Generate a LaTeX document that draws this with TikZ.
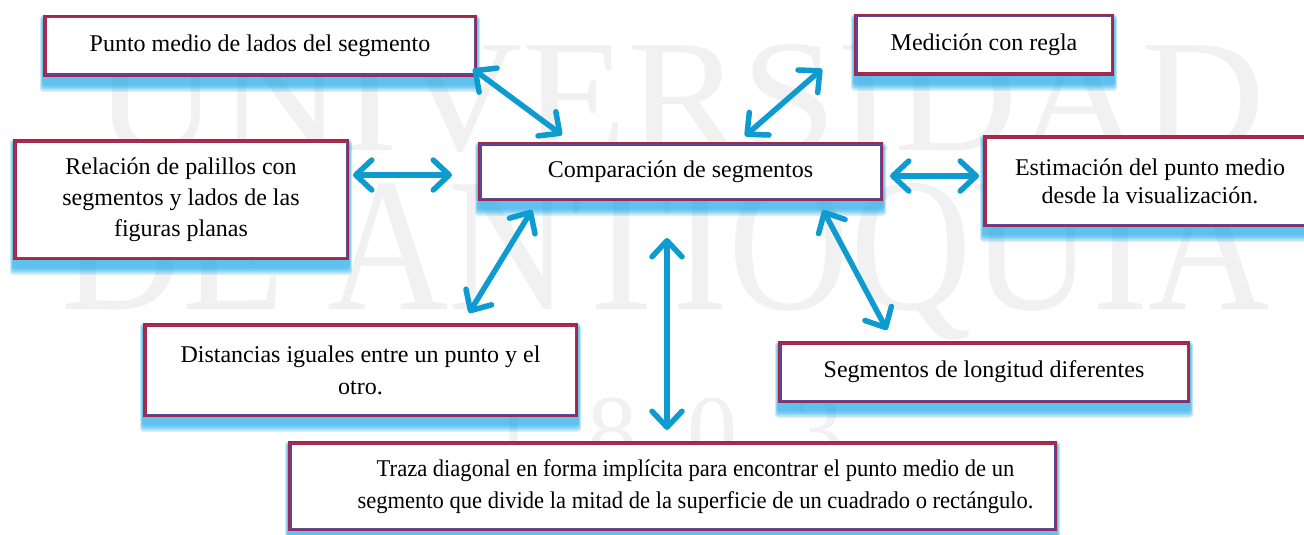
\documentclass[tikz,border=0pt]{standalone}
\usepackage{fontspec}
\setmainfont{Liberation Serif}
\usetikzlibrary{arrows.meta,calc,backgrounds}
\pgfdeclarelayer{wmlayer}
\pgfsetlayers{wmlayer,background,main}
\definecolor{boxred}{HTML}{A3274A}
\definecolor{boxblue}{HTML}{5A4C9C}
\definecolor{glowc}{HTML}{12A6E8}
\definecolor{arrowc}{HTML}{0E9BD0}
\definecolor{wmark}{HTML}{F1F1F1}
\begin{document}
\begin{tikzpicture}[x=1pt,y=-1pt,
  concept/.style={draw=boxred, line width=3.5pt, fill=white, inner sep=0pt, align=center,
    font=\fontsize{24}{31}\selectfont},
  biarrow/.style={draw=arrowc, line width=5.5pt,
    {Straight Barb[length=16pt,width=30pt,round]}-{Straight Barb[length=16pt,width=30pt,round]}},
  wm/.style={text=wmark, inner sep=0pt}]
\useasboundingbox (0,0) rectangle (1304,535);
\begin{pgfonlayer}{wmlayer}
\fill[white] (0,0) rectangle (1304,535);
\node[wm] (wm1) at (680,99) {\resizebox{1170pt}{106pt}{UNIVERSIDAD}};
\node[wm] (wm2) at (666,262) {\resizebox{1208pt}{126pt}{DE ANTIOQUIA}};
\node[wm, anchor=north, font=\fontsize{100}{100}\selectfont] (wm3) at (512,398) {1};
\node[wm, anchor=north, font=\fontsize{100}{100}\selectfont] (wm4) at (612,398) {8};
\node[wm, anchor=north, font=\fontsize{100}{100}\selectfont] (wm5) at (712,398) {0};
\node[wm, anchor=north, font=\fontsize{100}{100}\selectfont] (wm6) at (818,398) {3};
\end{pgfonlayer}

% concept boxes
\node[concept, minimum width=430.5, minimum height=58.5] (pm) at (260,46) {Punto medio de lados del segmento};
\node[concept, minimum width=256.5, minimum height=58.5] (mr) at (984,45) {Medición con regla};
\node[concept, minimum width=332.5, minimum height=117.5] (rp) at (181,199.5) {Relación de palillos con\\segmentos y lados de las\\figuras planas};
\node[concept, minimum width=401.5, minimum height=55.5] (cs) at (680.5,171.5) {Comparación de segmentos};
\node[concept, minimum width=330.5, minimum height=88.5, font=\fontsize{24}{28}\selectfont] (em) at (1150,181) {Estimación del punto medio\\desde la visualización.};
\node[concept, minimum width=431.5, minimum height=90.5, font=\fontsize{24}{32}\selectfont] (di) at (360.5,370) {Distancias iguales entre un punto y el\\otro.};
\node[concept, minimum width=408.5, minimum height=58.5] (sl) at (984,372) {Segmentos de longitud diferentes};
\node[concept, minimum width=765.5, minimum height=86.5] (tr) at (672.5,486)
  {\hspace*{46pt}\scalebox{0.94}[1]{\begin{tabular}{@{}c@{}}Traza diagonal en forma implícita para encontrar el punto medio de un\\[1pt]segmento que divide la mitad de la superficie de un cuadrado o rectángulo.\end{tabular}}};

% glow and inner line
\begin{pgfonlayer}{background}
\foreach \n in {pm,mr,rp,cs,em,di,sl,tr}{
  \foreach \d in {1,...,6}{
    \fill[glowc, opacity=0.17, rounded corners=3pt]
      ($(\n.south west)+(-0.5*\d,7+1.3*\d)$) rectangle ($(\n.north east)+(0.5*\d,4-0.6*\d)$);
  }
}
\end{pgfonlayer}
\foreach \n in {pm,mr,rp,cs,em,di,sl,tr}{
  \draw[boxblue, line width=1.1pt] ($(\n.south west)+(2.2,-2.2)$) rectangle ($(\n.north east)+(-2.2,2.2)$);
}

% connector end points
\coordinate (a1p) at (473,69);  \coordinate (a1c) at (562,135);
\coordinate (a2p) at (822,69);  \coordinate (a2c) at (745,136);
\coordinate (a3p) at (353,175); \coordinate (a3c) at (452,175);
\coordinate (a4c) at (890,176); \coordinate (a4p) at (979,176);
\coordinate (a5c) at (532,210); \coordinate (a5p) at (469,313);
\coordinate (a6c) at (667,238); \coordinate (a6p) at (667,430);
\coordinate (a7c) at (823,210); \coordinate (a7p) at (887,330);

\draw[biarrow] (a1p) -- (a1c);
\draw[biarrow] (a2p) -- (a2c);
\draw[biarrow] (a3p) -- (a3c);
\draw[biarrow] (a4c) -- (a4p);
\draw[biarrow] (a5c) -- (a5p);
\draw[biarrow] (a6c) -- (a6p);
\draw[biarrow] (a7c) -- (a7p);
\end{tikzpicture}
\end{document}
